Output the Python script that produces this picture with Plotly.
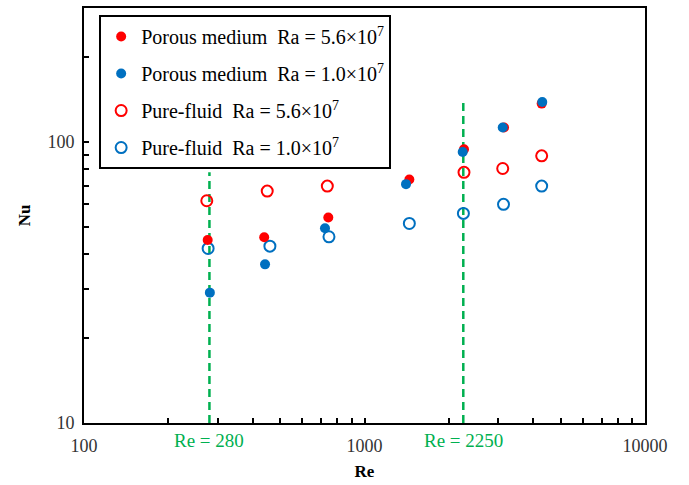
import math
import plotly.graph_objects as go

# Data
re_pm_56 = [276, 439, 743, 1445, 2263, 3144, 4282]
nu_pm_56 = [44.8, 45.8, 53.9, 73.6, 94.3, 112.6, 137.0]

re_pm_10 = [281, 442, 723, 1406, 2239, 3110, 4303]
nu_pm_10 = [29.1, 36.7, 49.3, 70.8, 92.2, 112.6, 138.8]

re_pf_56 = [274, 450, 737, 2263, 3110, 4282]
nu_pf_56 = [61.8, 66.9, 69.7, 78.0, 80.5, 89.3]

re_pf_10 = [277, 460, 747, 1445, 2252, 3130, 4282]
nu_pf_10 = [41.8, 42.6, 46.0, 51.3, 55.7, 60.0, 69.7]

re_lines = [280, 2250]
line_tops = [78, 140]
line_labels = ["Re = 280", "Re = 2250"]

names = [
    "Porous medium\u00a0\u00a0Ra = 5.6×10<sup>7</sup>",
    "Porous medium\u00a0\u00a0Ra = 1.0×10<sup>7</sup>",
    "Pure-fluid\u00a0\u00a0Ra = 5.6×10<sup>7</sup>",
    "Pure-fluid\u00a0\u00a0Ra = 1.0×10<sup>7</sup>",
]

RED = "#FF0000"
BLUE = "#0070C0"
GREEN = "#00B050"
SERIF = "Liberation Serif, DejaVu Serif, serif"

fig = go.Figure()

for xv, top in zip(re_lines, line_tops):
    fig.add_trace(go.Scatter(x=[xv, xv], y=[10, top], mode="lines",
                             line=dict(color=GREEN, width=2.5, dash="8px,5px"),
                             showlegend=False, hoverinfo="skip"))

fig.add_trace(go.Scatter(x=re_pf_56, y=nu_pf_56, mode="markers", name=names[2],
                         legendgroup="c", legendrank=3,
                         marker=dict(symbol="circle-open", size=11, color=RED, line=dict(width=2))))
fig.add_trace(go.Scatter(x=re_pf_10, y=nu_pf_10, mode="markers", name=names[3],
                         legendgroup="d", legendrank=4,
                         marker=dict(symbol="circle-open", size=11, color=BLUE, line=dict(width=2))))
fig.add_trace(go.Scatter(x=re_pm_56, y=nu_pm_56, mode="markers", name=names[0],
                         legendgroup="a", legendrank=1,
                         marker=dict(symbol="circle", size=10, color=RED)))
fig.add_trace(go.Scatter(x=re_pm_10, y=nu_pm_10, mode="markers", name=names[1],
                         legendgroup="b", legendrank=2,
                         marker=dict(symbol="circle", size=10, color=BLUE)))

for xv, lab in zip(re_lines, line_labels):
    fig.add_annotation(x=math.log10(xv), xref="x", y=-0.012, yref="paper", text=lab,
                       showarrow=False, yanchor="top", xanchor="center",
                       font=dict(family=SERIF, size=19, color=GREEN))

xt = [100 * m for m in range(1, 10)] + [1000 * m for m in range(1, 10)] + [10000]
xtt = [str(v) if v in (100, 1000, 10000) else "" for v in xt]
yt = [10 * m for m in range(1, 10)] + [100, 200]
ytt = [str(v) if v in (10, 100) else "" for v in yt]

axis_common = dict(showline=True, linecolor="black", linewidth=2, mirror=True,
                   ticks="inside", ticklen=5, tickwidth=1.5, tickcolor="black",
                   showgrid=False, zeroline=False, automargin=False,
                   tickfont=dict(family=SERIF, size=18, color="#333333"))

fig.update_xaxes(type="log", range=[2, 4], tickvals=xt, ticktext=xtt,
                 ticklabelstandoff=5,
                 title=dict(text="<b>Re</b>", font=dict(family=SERIF, size=17, color="black"),
                            standoff=11),
                 **axis_common)
fig.update_yaxes(type="log", range=[1, 2.477], tickvals=yt, ticktext=ytt,
                 ticklabelstandoff=4,
                 title=dict(text="<b>Nu</b>", font=dict(family=SERIF, size=17, color="black"),
                            standoff=12),
                 **axis_common)

fig.update_layout(
    width=689, height=485,
    margin=dict(l=84, r=44, t=8, b=62),
    paper_bgcolor="white", plot_bgcolor="white",
    showlegend=True,
    legend=dict(x=0.027, y=0.983, xanchor="left", yanchor="top",
                bgcolor="white", bordercolor="black", borderwidth=2,
                font=dict(family=SERIF, size=20, color="black"),
                itemwidth=30,
                tracegroupgap=8, traceorder="grouped"),
)

fig.write_html("out.html")
